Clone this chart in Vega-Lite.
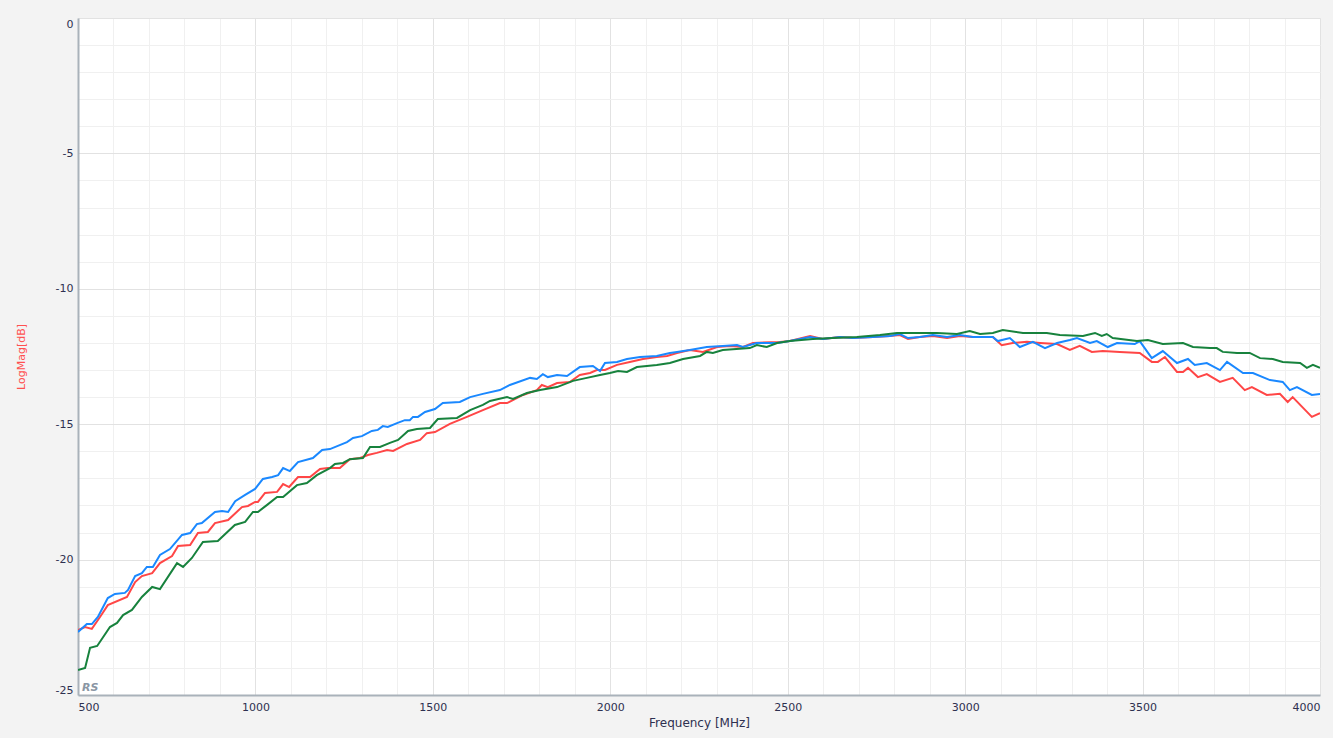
{
  "$schema": "https://vega.github.io/schema/vega-lite/v6.json",
  "autosize": {"type": "none"},
  "width": 1242,
  "height": 677,
  "padding": {"left": 78, "top": 18, "right": 13, "bottom": 43},
  "background": "#f3f3f3",
  "config": {
    "view": {"fill": "#ffffff", "stroke": "#b4bcc4", "strokeWidth": 1},
    "font": "DejaVu Sans"
  },
  "datasets": {
    "traces": [
      {"s":"Trc1","f":500,"db":-22.60},{"s":"Trc1","f":520,"db":-22.49},{"s":"Trc1","f":539,"db":-22.56},{"s":"Trc1","f":562,"db":-22.12},{"s":"Trc1","f":584,"db":-21.68},{"s":"Trc1","f":638,"db":-21.38},{"s":"Trc1","f":661,"db":-20.83},{"s":"Trc1","f":680,"db":-20.61},{"s":"Trc1","f":709,"db":-20.50},{"s":"Trc1","f":731,"db":-20.13},{"s":"Trc1","f":765,"db":-19.87},{"s":"Trc1","f":782,"db":-19.50},{"s":"Trc1","f":816,"db":-19.46},{"s":"Trc1","f":838,"db":-19.02},{"s":"Trc1","f":866,"db":-18.98},{"s":"Trc1","f":886,"db":-18.65},{"s":"Trc1","f":923,"db":-18.54},{"s":"Trc1","f":962,"db":-18.06},{"s":"Trc1","f":979,"db":-18.02},{"s":"Trc1","f":999,"db":-17.87},{"s":"Trc1","f":1007,"db":-17.87},{"s":"Trc1","f":1027,"db":-17.54},{"s":"Trc1","f":1061,"db":-17.50},{"s":"Trc1","f":1078,"db":-17.21},{"s":"Trc1","f":1095,"db":-17.32},{"s":"Trc1","f":1120,"db":-16.95},{"s":"Trc1","f":1154,"db":-16.95},{"s":"Trc1","f":1182,"db":-16.65},{"s":"Trc1","f":1204,"db":-16.62},{"s":"Trc1","f":1238,"db":-16.62},{"s":"Trc1","f":1266,"db":-16.29},{"s":"Trc1","f":1295,"db":-16.25},{"s":"Trc1","f":1317,"db":-16.14},{"s":"Trc1","f":1342,"db":-16.06},{"s":"Trc1","f":1371,"db":-15.95},{"s":"Trc1","f":1388,"db":-15.99},{"s":"Trc1","f":1427,"db":-15.73},{"s":"Trc1","f":1464,"db":-15.58},{"s":"Trc1","f":1483,"db":-15.33},{"s":"Trc1","f":1506,"db":-15.29},{"s":"Trc1","f":1548,"db":-14.99},{"s":"Trc1","f":1596,"db":-14.73},{"s":"Trc1","f":1641,"db":-14.48},{"s":"Trc1","f":1689,"db":-14.22},{"s":"Trc1","f":1709,"db":-14.22},{"s":"Trc1","f":1754,"db":-13.92},{"s":"Trc1","f":1793,"db":-13.74},{"s":"Trc1","f":1807,"db":-13.55},{"s":"Trc1","f":1824,"db":-13.63},{"s":"Trc1","f":1850,"db":-13.48},{"s":"Trc1","f":1886,"db":-13.44},{"s":"Trc1","f":1914,"db":-13.18},{"s":"Trc1","f":1943,"db":-13.11},{"s":"Trc1","f":1962,"db":-13.00},{"s":"Trc1","f":1985,"db":-13.00},{"s":"Trc1","f":2019,"db":-12.81},{"s":"Trc1","f":2055,"db":-12.70},{"s":"Trc1","f":2092,"db":-12.59},{"s":"Trc1","f":2131,"db":-12.52},{"s":"Trc1","f":2160,"db":-12.48},{"s":"Trc1","f":2188,"db":-12.37},{"s":"Trc1","f":2224,"db":-12.26},{"s":"Trc1","f":2261,"db":-12.33},{"s":"Trc1","f":2301,"db":-12.15},{"s":"Trc1","f":2337,"db":-12.11},{"s":"Trc1","f":2374,"db":-12.15},{"s":"Trc1","f":2402,"db":-12.00},{"s":"Trc1","f":2478,"db":-11.96},{"s":"Trc1","f":2506,"db":-11.93},{"s":"Trc1","f":2563,"db":-11.74},{"s":"Trc1","f":2599,"db":-11.85},{"s":"Trc1","f":2647,"db":-11.78},{"s":"Trc1","f":2684,"db":-11.82},{"s":"Trc1","f":2740,"db":-11.78},{"s":"Trc1","f":2788,"db":-11.74},{"s":"Trc1","f":2816,"db":-11.71},{"s":"Trc1","f":2839,"db":-11.85},{"s":"Trc1","f":2872,"db":-11.78},{"s":"Trc1","f":2909,"db":-11.74},{"s":"Trc1","f":2949,"db":-11.82},{"s":"Trc1","f":2985,"db":-11.74},{"s":"Trc1","f":3022,"db":-11.78},{"s":"Trc1","f":3078,"db":-11.78},{"s":"Trc1","f":3103,"db":-12.08},{"s":"Trc1","f":3134,"db":-12.00},{"s":"Trc1","f":3174,"db":-11.96},{"s":"Trc1","f":3211,"db":-12.00},{"s":"Trc1","f":3259,"db":-12.04},{"s":"Trc1","f":3295,"db":-12.26},{"s":"Trc1","f":3323,"db":-12.11},{"s":"Trc1","f":3357,"db":-12.33},{"s":"Trc1","f":3388,"db":-12.30},{"s":"Trc1","f":3436,"db":-12.33},{"s":"Trc1","f":3492,"db":-12.37},{"s":"Trc1","f":3526,"db":-12.70},{"s":"Trc1","f":3543,"db":-12.70},{"s":"Trc1","f":3563,"db":-12.52},{"s":"Trc1","f":3597,"db":-13.07},{"s":"Trc1","f":3614,"db":-13.07},{"s":"Trc1","f":3628,"db":-12.92},{"s":"Trc1","f":3656,"db":-13.26},{"s":"Trc1","f":3681,"db":-13.15},{"s":"Trc1","f":3718,"db":-13.44},{"s":"Trc1","f":3754,"db":-13.29},{"s":"Trc1","f":3788,"db":-13.74},{"s":"Trc1","f":3808,"db":-13.63},{"s":"Trc1","f":3850,"db":-13.92},{"s":"Trc1","f":3887,"db":-13.88},{"s":"Trc1","f":3909,"db":-14.18},{"s":"Trc1","f":3923,"db":-14.00},{"s":"Trc1","f":3977,"db":-14.73},{"s":"Trc1","f":4000,"db":-14.59},

      {"s":"Trc2","f":500,"db":-22.67},{"s":"Trc2","f":525,"db":-22.38},{"s":"Trc2","f":539,"db":-22.38},{"s":"Trc2","f":556,"db":-22.12},{"s":"Trc2","f":584,"db":-21.42},{"s":"Trc2","f":604,"db":-21.27},{"s":"Trc2","f":632,"db":-21.23},{"s":"Trc2","f":641,"db":-21.12},{"s":"Trc2","f":661,"db":-20.61},{"s":"Trc2","f":680,"db":-20.50},{"s":"Trc2","f":694,"db":-20.27},{"s":"Trc2","f":711,"db":-20.27},{"s":"Trc2","f":731,"db":-19.83},{"s":"Trc2","f":759,"db":-19.61},{"s":"Trc2","f":793,"db":-19.09},{"s":"Trc2","f":816,"db":-19.02},{"s":"Trc2","f":835,"db":-18.69},{"s":"Trc2","f":849,"db":-18.65},{"s":"Trc2","f":886,"db":-18.24},{"s":"Trc2","f":906,"db":-18.21},{"s":"Trc2","f":923,"db":-18.24},{"s":"Trc2","f":943,"db":-17.84},{"s":"Trc2","f":971,"db":-17.61},{"s":"Trc2","f":999,"db":-17.39},{"s":"Trc2","f":1021,"db":-17.02},{"s":"Trc2","f":1047,"db":-16.95},{"s":"Trc2","f":1064,"db":-16.88},{"s":"Trc2","f":1078,"db":-16.62},{"s":"Trc2","f":1097,"db":-16.73},{"s":"Trc2","f":1120,"db":-16.40},{"s":"Trc2","f":1162,"db":-16.25},{"s":"Trc2","f":1188,"db":-15.95},{"s":"Trc2","f":1210,"db":-15.92},{"s":"Trc2","f":1258,"db":-15.66},{"s":"Trc2","f":1275,"db":-15.51},{"s":"Trc2","f":1300,"db":-15.44},{"s":"Trc2","f":1328,"db":-15.25},{"s":"Trc2","f":1345,"db":-15.21},{"s":"Trc2","f":1359,"db":-15.07},{"s":"Trc2","f":1373,"db":-15.10},{"s":"Trc2","f":1399,"db":-14.96},{"s":"Trc2","f":1421,"db":-14.85},{"s":"Trc2","f":1435,"db":-14.85},{"s":"Trc2","f":1444,"db":-14.73},{"s":"Trc2","f":1458,"db":-14.73},{"s":"Trc2","f":1478,"db":-14.55},{"s":"Trc2","f":1506,"db":-14.44},{"s":"Trc2","f":1528,"db":-14.22},{"s":"Trc2","f":1576,"db":-14.18},{"s":"Trc2","f":1605,"db":-14.00},{"s":"Trc2","f":1641,"db":-13.88},{"s":"Trc2","f":1689,"db":-13.74},{"s":"Trc2","f":1717,"db":-13.55},{"s":"Trc2","f":1774,"db":-13.29},{"s":"Trc2","f":1793,"db":-13.33},{"s":"Trc2","f":1810,"db":-13.15},{"s":"Trc2","f":1824,"db":-13.26},{"s":"Trc2","f":1850,"db":-13.18},{"s":"Trc2","f":1878,"db":-13.22},{"s":"Trc2","f":1914,"db":-12.89},{"s":"Trc2","f":1951,"db":-12.85},{"s":"Trc2","f":1971,"db":-13.04},{"s":"Trc2","f":1985,"db":-12.74},{"s":"Trc2","f":2019,"db":-12.70},{"s":"Trc2","f":2047,"db":-12.59},{"s":"Trc2","f":2084,"db":-12.52},{"s":"Trc2","f":2131,"db":-12.48},{"s":"Trc2","f":2168,"db":-12.37},{"s":"Trc2","f":2188,"db":-12.33},{"s":"Trc2","f":2224,"db":-12.26},{"s":"Trc2","f":2272,"db":-12.15},{"s":"Trc2","f":2317,"db":-12.11},{"s":"Trc2","f":2357,"db":-12.08},{"s":"Trc2","f":2374,"db":-12.15},{"s":"Trc2","f":2413,"db":-12.00},{"s":"Trc2","f":2470,"db":-12.00},{"s":"Trc2","f":2506,"db":-11.93},{"s":"Trc2","f":2563,"db":-11.78},{"s":"Trc2","f":2599,"db":-11.85},{"s":"Trc2","f":2647,"db":-11.78},{"s":"Trc2","f":2684,"db":-11.82},{"s":"Trc2","f":2740,"db":-11.78},{"s":"Trc2","f":2788,"db":-11.74},{"s":"Trc2","f":2816,"db":-11.67},{"s":"Trc2","f":2839,"db":-11.82},{"s":"Trc2","f":2872,"db":-11.78},{"s":"Trc2","f":2909,"db":-11.71},{"s":"Trc2","f":2949,"db":-11.78},{"s":"Trc2","f":2985,"db":-11.71},{"s":"Trc2","f":3022,"db":-11.78},{"s":"Trc2","f":3078,"db":-11.78},{"s":"Trc2","f":3092,"db":-11.93},{"s":"Trc2","f":3126,"db":-11.82},{"s":"Trc2","f":3154,"db":-12.15},{"s":"Trc2","f":3191,"db":-11.96},{"s":"Trc2","f":3225,"db":-12.19},{"s":"Trc2","f":3259,"db":-12.00},{"s":"Trc2","f":3295,"db":-11.89},{"s":"Trc2","f":3315,"db":-11.82},{"s":"Trc2","f":3352,"db":-12.00},{"s":"Trc2","f":3371,"db":-11.93},{"s":"Trc2","f":3402,"db":-12.15},{"s":"Trc2","f":3428,"db":-12.00},{"s":"Trc2","f":3478,"db":-12.04},{"s":"Trc2","f":3492,"db":-11.93},{"s":"Trc2","f":3526,"db":-12.56},{"s":"Trc2","f":3557,"db":-12.30},{"s":"Trc2","f":3597,"db":-12.74},{"s":"Trc2","f":3628,"db":-12.59},{"s":"Trc2","f":3647,"db":-12.81},{"s":"Trc2","f":3681,"db":-12.74},{"s":"Trc2","f":3718,"db":-13.00},{"s":"Trc2","f":3738,"db":-12.70},{"s":"Trc2","f":3783,"db":-13.11},{"s":"Trc2","f":3811,"db":-13.11},{"s":"Trc2","f":3859,"db":-13.37},{"s":"Trc2","f":3895,"db":-13.44},{"s":"Trc2","f":3915,"db":-13.74},{"s":"Trc2","f":3935,"db":-13.63},{"s":"Trc2","f":3977,"db":-13.92},{"s":"Trc2","f":4000,"db":-13.88},

      {"s":"Trc3","f":500,"db":-24.08},{"s":"Trc3","f":520,"db":-24.00},{"s":"Trc3","f":534,"db":-23.26},{"s":"Trc3","f":554,"db":-23.19},{"s":"Trc3","f":590,"db":-22.49},{"s":"Trc3","f":610,"db":-22.34},{"s":"Trc3","f":627,"db":-22.05},{"s":"Trc3","f":652,"db":-21.86},{"s":"Trc3","f":680,"db":-21.38},{"s":"Trc3","f":709,"db":-21.01},{"s":"Trc3","f":731,"db":-21.09},{"s":"Trc3","f":779,"db":-20.13},{"s":"Trc3","f":796,"db":-20.27},{"s":"Trc3","f":821,"db":-19.94},{"s":"Trc3","f":852,"db":-19.35},{"s":"Trc3","f":894,"db":-19.31},{"s":"Trc3","f":942,"db":-18.72},{"s":"Trc3","f":971,"db":-18.61},{"s":"Trc3","f":993,"db":-18.24},{"s":"Trc3","f":1007,"db":-18.24},{"s":"Trc3","f":1033,"db":-17.98},{"s":"Trc3","f":1061,"db":-17.69},{"s":"Trc3","f":1078,"db":-17.69},{"s":"Trc3","f":1117,"db":-17.25},{"s":"Trc3","f":1145,"db":-17.17},{"s":"Trc3","f":1173,"db":-16.88},{"s":"Trc3","f":1210,"db":-16.62},{"s":"Trc3","f":1224,"db":-16.47},{"s":"Trc3","f":1247,"db":-16.43},{"s":"Trc3","f":1266,"db":-16.29},{"s":"Trc3","f":1303,"db":-16.25},{"s":"Trc3","f":1323,"db":-15.84},{"s":"Trc3","f":1351,"db":-15.84},{"s":"Trc3","f":1379,"db":-15.69},{"s":"Trc3","f":1402,"db":-15.58},{"s":"Trc3","f":1430,"db":-15.25},{"s":"Trc3","f":1455,"db":-15.18},{"s":"Trc3","f":1492,"db":-15.14},{"s":"Trc3","f":1514,"db":-14.81},{"s":"Trc3","f":1568,"db":-14.77},{"s":"Trc3","f":1605,"db":-14.48},{"s":"Trc3","f":1641,"db":-14.29},{"s":"Trc3","f":1661,"db":-14.14},{"s":"Trc3","f":1709,"db":-14.00},{"s":"Trc3","f":1726,"db":-14.07},{"s":"Trc3","f":1765,"db":-13.85},{"s":"Trc3","f":1802,"db":-13.74},{"s":"Trc3","f":1850,"db":-13.63},{"s":"Trc3","f":1895,"db":-13.40},{"s":"Trc3","f":1934,"db":-13.29},{"s":"Trc3","f":1971,"db":-13.18},{"s":"Trc3","f":1999,"db":-13.11},{"s":"Trc3","f":2022,"db":-13.04},{"s":"Trc3","f":2047,"db":-13.07},{"s":"Trc3","f":2075,"db":-12.89},{"s":"Trc3","f":2131,"db":-12.81},{"s":"Trc3","f":2168,"db":-12.74},{"s":"Trc3","f":2205,"db":-12.59},{"s":"Trc3","f":2253,"db":-12.48},{"s":"Trc3","f":2272,"db":-12.33},{"s":"Trc3","f":2289,"db":-12.37},{"s":"Trc3","f":2317,"db":-12.26},{"s":"Trc3","f":2393,"db":-12.19},{"s":"Trc3","f":2413,"db":-12.08},{"s":"Trc3","f":2441,"db":-12.15},{"s":"Trc3","f":2470,"db":-12.00},{"s":"Trc3","f":2506,"db":-11.93},{"s":"Trc3","f":2571,"db":-11.85},{"s":"Trc3","f":2627,"db":-11.82},{"s":"Trc3","f":2695,"db":-11.78},{"s":"Trc3","f":2760,"db":-11.71},{"s":"Trc3","f":2808,"db":-11.63},{"s":"Trc3","f":2872,"db":-11.63},{"s":"Trc3","f":2920,"db":-11.63},{"s":"Trc3","f":2977,"db":-11.67},{"s":"Trc3","f":3013,"db":-11.56},{"s":"Trc3","f":3042,"db":-11.67},{"s":"Trc3","f":3078,"db":-11.63},{"s":"Trc3","f":3106,"db":-11.52},{"s":"Trc3","f":3163,"db":-11.63},{"s":"Trc3","f":3230,"db":-11.63},{"s":"Trc3","f":3267,"db":-11.71},{"s":"Trc3","f":3332,"db":-11.74},{"s":"Trc3","f":3366,"db":-11.63},{"s":"Trc3","f":3385,"db":-11.74},{"s":"Trc3","f":3399,"db":-11.67},{"s":"Trc3","f":3416,"db":-11.82},{"s":"Trc3","f":3484,"db":-11.93},{"s":"Trc3","f":3515,"db":-11.89},{"s":"Trc3","f":3557,"db":-12.04},{"s":"Trc3","f":3614,"db":-12.00},{"s":"Trc3","f":3642,"db":-12.15},{"s":"Trc3","f":3690,"db":-12.19},{"s":"Trc3","f":3709,"db":-12.19},{"s":"Trc3","f":3726,"db":-12.33},{"s":"Trc3","f":3766,"db":-12.37},{"s":"Trc3","f":3802,"db":-12.37},{"s":"Trc3","f":3831,"db":-12.56},{"s":"Trc3","f":3867,"db":-12.59},{"s":"Trc3","f":3895,"db":-12.70},{"s":"Trc3","f":3944,"db":-12.74},{"s":"Trc3","f":3963,"db":-12.92},{"s":"Trc3","f":3980,"db":-12.81},{"s":"Trc3","f":4000,"db":-12.92}
    ],
    "mark": [{"label": "RS", "f": 500, "db": -25}]
  },
  "resolve": {"axis": {"x": "independent", "y": "independent"}},
  "layer": [
    {
      "data": {"name": "traces"},
      "mark": {"type": "line", "strokeWidth": 2, "clip": true, "interpolate": "linear"},
      "encoding": {
        "x": {
          "field": "f", "type": "quantitative",
          "scale": {"domain": [500, 4000], "nice": false, "zero": false},
          "axis": {
            "orient": "bottom",
            "values": [500,600,700,800,900,1000,1100,1200,1300,1400,1500,1600,1700,1800,1900,2000,2100,2200,2300,2400,2500,2600,2700,2800,2900,3000,3100,3200,3300,3400,3500,3600,3700,3800,3900,4000],
            "labels": false,
            "ticks": false,
            "domain": false,
            "grid": true,
            "gridColor": "#f0f0f0",
            "gridWidth": 1,
            "title": null
          }
        },
        "y": {
          "field": "db", "type": "quantitative",
          "scale": {"domain": [-25, 0], "nice": false, "zero": false},
          "axis": {
            "orient": "left",
            "values": [-25,-24,-23,-22,-21,-20,-19,-18,-17,-16,-15,-14,-13,-12,-11,-10,-9,-8,-7,-6,-5,-4,-3,-2,-1,0],
            "labels": false,
            "ticks": false,
            "domain": false,
            "grid": true,
            "gridColor": "#f0f0f0",
            "gridWidth": 1,
            "title": null
          }
        },
        "color": {
          "field": "s", "type": "nominal",
          "scale": {"domain": ["Trc1", "Trc2", "Trc3"], "range": ["#ff4646", "#1a88ff", "#17823d"]},
          "legend": null
        }
      }
    },
    {
      "data": {"name": "mark"},
      "mark": {"type": "text", "align": "left", "baseline": "bottom", "dx": 4, "dy": -2, "fontSize": 11, "fontStyle": "italic", "fontWeight": "bold", "color": "#8a96a4"},
      "encoding": {
        "x": {
          "field": "f", "type": "quantitative",
          "axis": {
            "orient": "bottom",
            "values": [500, 1000, 1500, 2000, 2500, 3000, 3500, 4000],
            "labelExpr": "'' + datum.value",
            "labelOverlap": false,
            "labelFlush": true,
            "labelFontSize": 11,
            "labelColor": "#2e3050",
            "labelPadding": 6,
            "ticks": false,
            "grid": true,
            "gridColor": "#e2e2e2",
            "gridWidth": 1,
            "domainColor": "#a9b2ba",
            "domainWidth": 2,
            "title": "Frequency [MHz]",
            "titleFontSize": 12,
            "titleFontWeight": "normal",
            "titleColor": "#2e3050",
            "titlePadding": 5
          }
        },
        "y": {
          "field": "db", "type": "quantitative",
          "axis": {
            "orient": "left",
            "values": [-25, -20, -15, -10, -5, 0],
            "labelExpr": "'' + datum.value",
            "labelOverlap": false,
            "labelFlush": true,
            "labelFontSize": 11,
            "labelColor": "#2e3050",
            "labelPadding": 5,
            "ticks": false,
            "grid": true,
            "gridColor": "#e2e2e2",
            "gridWidth": 1,
            "domainColor": "#a9b2ba",
            "domainWidth": 2,
            "title": "LogMag[dB]",
            "titleFontSize": 11,
            "titleFontWeight": "normal",
            "titleColor": "#ff5050",
            "titlePadding": 29
          }
        },
        "text": {"field": "label"}
      }
    }
  ]
}
